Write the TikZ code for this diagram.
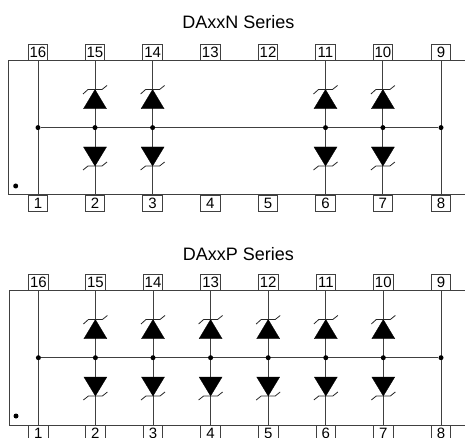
\documentclass[tikz,border=0pt]{standalone}
\usepackage{fontspec}
\setmainfont{Liberation Sans}
\usetikzlibrary{backgrounds}
\tikzset{
  pinbox/.style={draw=black!75,line width=0.9pt,fill=white,minimum width=19.5pt,minimum height=16pt,inner sep=0pt,font=\fontsize{15}{15}\selectfont},
  wire/.style={draw=black!75,line width=1pt},
  junction/.style={circle,fill=black,minimum size=5pt,inner sep=0pt},
  diodefill/.style={fill=black,draw=black,line width=0.3pt,line join=miter},
  zbar/.style={draw=black!85,line width=0.8pt},
  heading/.style={font=\fontsize{18}{18}\selectfont,inner sep=0pt}
}
\newcommand{\upperdiode}[3]{% name x y-offset
  \fill[diodefill] (#2,89.5+#3) coordinate (#1a) -- (#2+11.5,108.7+#3) -- (#2-11.5,108.7+#3) -- cycle;
  \draw[zbar] (#2-12,94+#3) -- (#2-7,89.5+#3) -- (#2+7,89.5+#3) -- (#2+12,85.5+#3);
}
\newcommand{\lowerdiode}[3]{%
  \fill[diodefill] (#2,166+#3) coordinate (#1a) -- (#2+11.5,147+#3) -- (#2-11.5,147+#3) -- cycle;
  \draw[zbar] (#2-12,170+#3) -- (#2-7,166+#3) -- (#2+7,166+#3) -- (#2+12,162+#3);
}
\begin{document}
\begin{tikzpicture}[x=1pt,y=-1pt]
\useasboundingbox (0,0) rectangle (465,438);
\clip (0,0) rectangle (465,438);

% ---------- DAxxN ----------
\node[heading] (titleN) at (238.4,21.7) {DAxxN Series};
\coordinate (nTR) at (465,60.7);
\coordinate (nTL) at (8.7,60.7);
\coordinate (nBL) at (8.7,195);
\coordinate (nBR) at (465,195);
\foreach \t/\b/\x in {16/1/38,15/2/95,14/3/152.6,13/4/210.3,12/5/268,11/6/325.5,10/7/382.9,9/8/441}{
  \node[pinbox] (nt\t) at (\x,52.7) {\t};
  \node[pinbox] (nb\b) at (\x,203) {\b};
}
\node[junction] (nj16) at (38,127.6) {};
\node[junction] (nj15) at (95,127.6) {};
\node[junction] (nj14) at (152.6,127.6) {};
\node[junction] (nj11) at (325.5,127.6) {};
\node[junction] (nj10) at (382.9,127.6) {};
\node[junction] (nj9) at (441,127.6) {};
\node[junction] (nmark) at (15.7,186) {};
\begin{pgfonlayer}{background}
  \draw[wire] (nTR) -- (nTL) -- (nBL) -- (nBR);
  \draw[wire] (nj16) -- (nj9);
  \foreach \t/\b in {16/1,15/2,14/3,11/6,10/7,9/8}{
    \draw[wire] (nt\t.south) -- (nb\b.north);
  }
\end{pgfonlayer}
\foreach \n/\x in {15/95,14/152.6,11/325.5,10/382.9}{
  \upperdiode{nu\n}{\x}{0}
  \lowerdiode{nl\n}{\x}{0}
}

% ---------- DAxxP ----------
\node[heading] (titleP) at (238.4,254) {DAxxP Series};
\coordinate (pTR) at (465,290.7);
\coordinate (pTL) at (9,290.7);
\coordinate (pBL) at (9,425);
\coordinate (pBR) at (465,425);
\foreach \t/\b/\x in {16/1/38.4,15/2/95.4,14/3/153,13/4/210.6,12/5/268.2,11/6/325.8,10/7/383.3,9/8/441}{
  \node[pinbox] (pt\t) at (\x,282.7) {\t};
  \node[pinbox] (pb\b) at (\x,433) {\b};
}
\foreach \n/\x in {16/38.4,15/95.4,14/153,13/210.6,12/268.2,11/325.8,10/383.3,9/441}{
  \node[junction] (pj\n) at (\x,357.7) {};
}
\node[junction] (pmark) at (16,416) {};
\begin{pgfonlayer}{background}
  \draw[wire] (pTR) -- (pTL) -- (pBL) -- (pBR);
  \draw[wire] (pj16) -- (pj9);
  \foreach \t/\b in {16/1,15/2,14/3,13/4,12/5,11/6,10/7,9/8}{
    \draw[wire] (pt\t.south) -- (pb\b.north);
  }
\end{pgfonlayer}
\foreach \n/\x in {15/95.4,14/153,13/210.6,12/268.2,11/325.8,10/383.3}{
  \upperdiode{pu\n}{\x}{230}
  \lowerdiode{pl\n}{\x}{230}
}
\end{tikzpicture}
\end{document}
